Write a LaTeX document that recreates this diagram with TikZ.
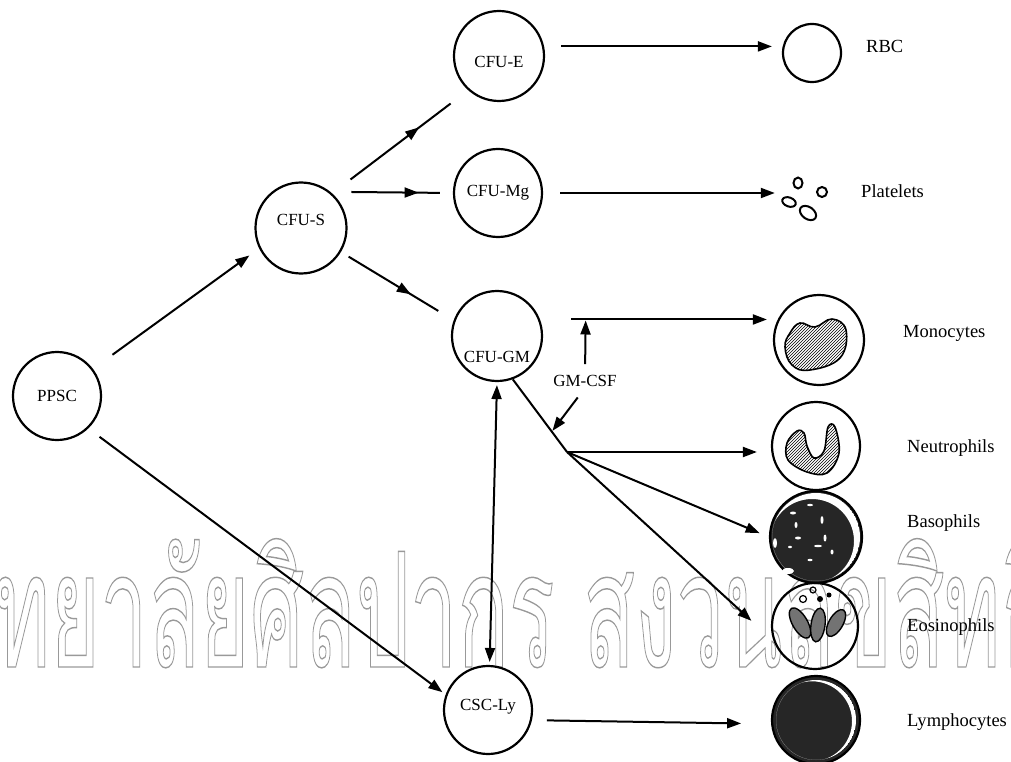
\documentclass[tikz,border=0pt]{standalone}
\usepackage{fontspec}
\setmainfont{Liberation Serif}
\newfontfamily\thaifont[Script=Thai]{Loma}
\usetikzlibrary{arrows.meta,decorations.markings,patterns}
% hollow (stroked, unfilled) glyphs
\newcommand{\hollowtext}[1]{\special{pdf:literal direct 1 Tr 0.9 w}#1\special{pdf:literal direct 0 Tr}}

\begin{document}
\begin{tikzpicture}[x=1pt,y=-1pt,
  font=\fontsize{17}{17}\selectfont,
  >={Triangle[length=14pt,width=10pt]},
  cell/.style={circle, draw, line width=2.2pt, inner sep=0pt, minimum size=#1},
  cell/.default=90pt,
  tag/.style={anchor=west, inner sep=0pt, font=\fontsize{18.5}{18.5}\selectfont},
  conn/.style={->, line width=2pt},
  midarrow/.style={line width=2pt, postaction={decorate},
    decoration={markings, mark=at position #1 with {\arrow{>}}}},
  nucleus/.style={draw, line width=1.6pt, pattern=north east lines},
]
\useasboundingbox (0,0) rectangle (1011,762);

% watermark band
\begin{scope}
  \clip (0,0) rectangle (1011,762);
  \node[anchor=base west, inner sep=0pt, text=black!40] (wm) at (-6,667)
    {\scalebox{0.85}[1.6]{\fontsize{100}{100}\selectfont\thaifont\hollowtext{\llap{มหาวิ}ทยาลัยศิลปากร สงวนลิขสิทธิ์}}};
\end{scope}

% progenitor cells
\node[cell=88pt, label={center:PPSC}] (ppsc) at (57,396) {};
\node[cell=91pt, label={[yshift=8pt]center:CFU-S}] (cfus) at (301,228) {};
\node[cell=90pt, label={[yshift=-6pt]center:CFU-E}] (cfue) at (499,56) {};
\node[cell=88pt, label={center:CFU-Mg}] (cfumg) at (498,193) {};
\node[cell=90pt, label={[yshift=-21pt]center:CFU-GM}] (cfugm) at (497,336) {};
\node[cell=88pt, label={[yshift=3pt]center:CSC-Ly}] (csc) at (488,710) {};

% mature cells
\node[cell=58pt] (rbc) at (812,53) {};
\node[minimum width=60pt, minimum height=44pt, inner sep=0pt] (plt) at (806,198) {};
\node[cell=90pt] (mono) at (819,340) {};
\node[cell=88pt] (neu) at (816,446) {};
\node[cell=92pt, fill=black!85] (bas) at (816,537) {};
\node[cell=86pt] (eos) at (815,626) {};
\node[cell=88pt, fill=black!85] (lym) at (816,720) {};

% names of the mature cells
\node[tag] (trbc) at (866,46) {RBC};
\node[tag] (tplt) at (861,191) {Platelets};
\node[tag] (tmono) at (903,333) {Monocytes};
\node[tag] (tneu) at (907,448) {Neutrophils};
\node[tag] (tbas) at (907,523) {Basophils};
\node[tag] (teos) at (907,627) {Eosinophils};
\node[tag] (tlym) at (907,722) {Lymphocytes};

\node[inner sep=1pt] (gmcsf) at (585,381) {GM-CSF};
\coordinate (br) at (567,452);

% lineage arrows
\draw[conn, shorten <=24pt, shorten >=12pt] (ppsc.37) -- (cfus.206);
\draw[conn, shorten <=14pt, shorten >=4pt] (ppsc.-46) -- (csc.160);
\draw[midarrow=0.64, shorten <=23pt, shorten >=22pt] (cfus.48) -- (cfue.228);
\draw[midarrow=0.72, shorten <=21pt, shorten >=13pt] (cfus.51) -- (cfumg.west);
\draw[midarrow=0.62, shorten <=9pt, shorten >=18pt] (cfus.-31) -- (cfugm.160);
\draw[<->, line width=2pt, shorten <=3pt, shorten >=3pt] (cfugm.south) -- (csc.88);

\draw[conn, shorten <=17pt, shorten >=10pt] (cfue.12) -- (cfue.12 -| rbc.west);
\draw[conn, shorten <=17pt, shorten >=1pt] (cfumg.east) -- (cfumg.east -| plt.west);
\draw[conn, shorten <=31pt, shorten >=6pt] (cfugm.21) -- coordinate[pos=0.196] (mj) (cfugm.21 -| mono.west);
\draw[line width=2pt] (cfugm.-70) -- coordinate[pos=0.72] (gj) (br);
\draw[conn, shorten >=30pt] (br) -- (eos.200);
\draw[conn, shorten >=14pt] (br) -- (br -| neu.west);
\draw[conn, shorten >=10pt] (br) -- (bas.west);
\draw[conn, shorten <=10pt, shorten >=1pt] (gmcsf.north) -- (mj);
\draw[conn, shorten <=12pt, shorten >=1pt] (gmcsf.south) -- (gj);
\draw[conn, shorten <=15pt, shorten >=30pt] (csc.-13) -- (lym.185);

% platelets
\begin{scope}[shift={(plt.center)}, line width=2pt]
  \draw (-8,-15) ellipse (4.5 and 5.5);
  \draw (16,-6) ellipse (5 and 5);
  \draw[rotate around={-20:(-17,4)}] (-17,4) ellipse (7 and 4.5);
  \draw[rotate around={-35:(2,15)}] (2,15) ellipse (9 and 6);
\end{scope}

% monocyte nucleus
\draw[nucleus, shift={(mono.center)}] plot[smooth cycle, tension=0.7]
  coordinates {(-34,7) (-29,-7) (-19,-17) (-4,-13) (13,-21) (27,-10) (21,18) (-9,30) (-27,25)};

% neutrophil nucleus
\draw[nucleus, shift={(neu.center)}] plot[smooth cycle, tension=0.6]
  coordinates {(-19,-15) (-29,-3) (-28,14) (-9,26) (11,27) (23,7) (19,-19) (12,-19) (8,5) (-2,12) (-9,0) (-12,-13)};

% basophil granules
\begin{scope}[shift={(bas.center)}]
  \begin{scope}
    \clip (0,0) circle (44);
    \fill[white, even odd rule] (0,0) circle (44) (-4,4) circle (42);
  \end{scope}
  \fill[white] (-28,34) ellipse (6 and 3);
  \fill[white] (-41,6) ellipse (2 and 5);
  \fill[white] (-23,-24) ellipse (3 and 1.5);
  \fill[white] (-6,-32) ellipse (3 and 1.2);
  \fill[white] (-20,-12) ellipse (1.5 and 3);
  \fill[white] (6,-17) ellipse (1.5 and 4);
  \fill[white] (-18,1) ellipse (3 and 1.5);
  \fill[white] (9,1) ellipse (1.5 and 3.5);
  \fill[white] (2,9) ellipse (4 and 1.2);
  \fill[white] (-26,10) ellipse (2 and 1.2);
  \fill[white] (-6,23) ellipse (2.5 and 1.2);
  \fill[white] (16,15) ellipse (1.5 and 2.5);
\end{scope}

% eosinophil nucleus and granules
\begin{scope}[shift={(eos.center)}]
  \filldraw[line width=1.4pt, fill=black!55, rotate around={30:(-15,-3)}] (-15,-3) ellipse (7.5 and 17);
  \filldraw[line width=1.4pt, fill=black!55, rotate around={-8:(3,-1)}] (3,-1) ellipse (7 and 17);
  \filldraw[line width=1.4pt, fill=black!55, rotate around={-30:(21,-3)}] (21,-3) ellipse (7 and 15);
  \draw[line width=1.2pt] (-2,-36) circle (3);
  \draw[line width=1.2pt] (-12,-27) circle (3.5);
  \fill (5,-27) circle (3);
  \fill (14,-31) circle (2.5);
\end{scope}

% lymphocyte rim
\begin{scope}[shift={(lym.center)}]
  \clip (0,0) circle (40);
  \fill[white, even odd rule] (0,0) circle (40) (-4,1.3) circle (40);
\end{scope}
\end{tikzpicture}
\end{document}
